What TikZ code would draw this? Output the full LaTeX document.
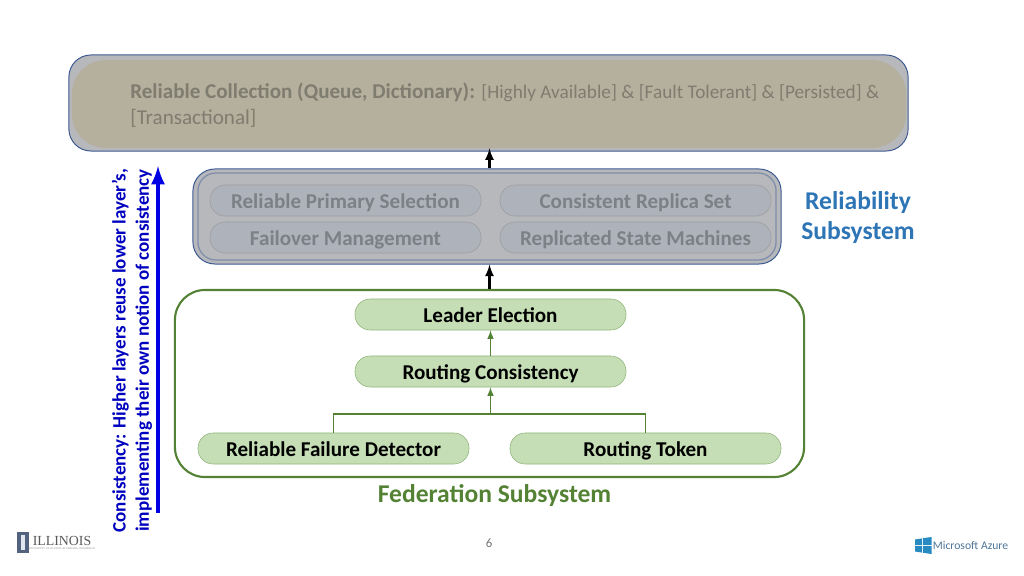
\documentclass[tikz,border=0pt]{standalone}
\usepackage{fontspec}
\setmainfont{Carlito}
\newfontfamily\logofont{Liberation Serif}

\def \pillw {6.775cm}
\def \pillh {0.775cm}
\def \pillr {0.38cm}

\definecolor{fedgreen}{HTML}{548235}
\definecolor{pillgreen}{HTML}{C5DEB5}
\definecolor{boxblue}{HTML}{3C5A92}
\definecolor{boxgrey}{HTML}{B7B8BC}
\definecolor{boxkhaki}{HTML}{B5B09E}
\definecolor{pillgrey}{HTML}{AEB2BB}
\definecolor{textgrey}{HTML}{7E8087}
\definecolor{textkhaki}{HTML}{7F7C70}
\definecolor{relblue}{HTML}{2E75B6}

\tikzset{
  layerbox/.style={draw=boxblue, fill=boxgrey, line width=0.7pt, rounded corners=0.55cm, inner sep=0pt},
  greenpill/.style={draw=fedgreen!45!pillgreen, fill=pillgreen, line width=0.4pt, rounded corners=\pillr,
    minimum width=\pillw, minimum height=\pillh, inner sep=0pt, text height=12pt, text depth=1pt, font=\fontsize{15}{18}\selectfont\bfseries},
  greypill/.style={draw=boxgrey!85!black, fill=pillgrey, line width=0.4pt, rounded corners=\pillr,
    minimum width=\pillw, minimum height=\pillh, inner sep=0pt, text height=12pt, text depth=1pt, text=textgrey, font=\fontsize{15}{18}\selectfont\bfseries},
  greenline/.style={draw=fedgreen, line width=1.1pt},
  biglabel/.style={font=\fontsize{18.2}{21.5}\selectfont\bfseries, align=center}
}

\begin{document}
\begin{tikzpicture}[x=0.025cm, y=-0.025cm]
\useasboundingbox (0,0) rectangle (1024,576);

% top layer
\draw (488.5,103) node[layerbox, minimum width=20.975cm, minimum height=2.4cm] (collection) {};
\draw (489,104) node[draw=none, fill=boxkhaki, rounded corners=0.85cm, minimum width=20.85cm, minimum height=2.2cm] (collectioninner) {};
\draw (130,105) node[anchor=west, inner sep=0pt, align=left, text=textkhaki, font=\fontsize{15}{18.5}\selectfont] (collectiontext)
  {\textbf{Reliable Collection (Queue, Dictionary):} {\fontsize{13.7}{18.5}\selectfont [Highly Available] \& [Fault Tolerant] \& [Persisted] \&}\\{}[Transactional]};

% reliability layer
\draw (487,216.5) node[layerbox, minimum width=14.7cm, minimum height=2.375cm] (reliability) {};
\draw (487,216.5) node[draw=boxblue!45!boxgrey, line width=0.9pt, rounded corners=0.45cm, minimum width=14.45cm, minimum height=2.175cm, inner sep=0pt] (reliabilityinner) {};
\draw (345.5,200.5) node[greypill] (primary) {Reliable Primary Selection};
\draw (635.5,200.5) node[greypill] (replica) {Consistent Replica Set};
\draw (345.5,237.5) node[greypill] (failover) {Failover Management};
\draw (635.5,237.5) node[greypill] (machines) {Replicated State Machines};
\draw (858,217.5) node[biglabel, text=relblue] (reliabilitylabel) {Reliability\\Subsystem};

% federation layer
\draw (489.5,383.5) node[draw=fedgreen, line width=1.5pt, rounded corners=0.75cm, minimum width=15.725cm, minimum height=4.675cm, inner sep=0pt] (federation) {};
\draw (490.5,314.5) node[greenpill] (leader) {Leader Election};
\draw (490.5,371.5) node[greenpill] (routing) {Routing Consistency};
\draw (333.5,448.5) node[greenpill] (detector) {Reliable Failure Detector};
\draw (645.5,448.5) node[greenpill] (token) {Routing Token};
\draw (494.5,496) node[biglabel, text=fedgreen] (federationlabel) {Federation Subsystem};

\coordinate (join) at (routing.south |- 0,414);
\draw[greenline] (detector.north) |- (join);
\draw[greenline] (token.north) |- (join);
\draw[greenline, ->, >=latex] (join) -- (routing.south);
\draw[greenline, ->, >=latex] (routing.north) -- (leader.south);

\draw[->, >=latex, line width=1.8pt] (federation.north) -- (federation.north |- reliability.south);
\draw[->, >=latex, line width=1.8pt] (federation.north |- reliability.north) -- (federation.north |- collectioninner.south);

% consistency arrow
\coordinate (arrowstart) at (158,513);
\coordinate (arrowend) at (158,166);
\draw[->, >=latex, draw=blue!90!black, line width=3.4pt] (arrowstart) -- (arrowend);
\draw (132,350.5) node[rotate=90, align=center, text=blue!75!black, font=\fontsize{13.5}{16.5}\selectfont\bfseries, inner sep=0pt] (consistency)
  {Consistency: Higher layers reuse lower layer's,\\implementing their own notion of consistency};

% page number
\draw (489,543) node[text=black!55, font=\fontsize{9.1}{11}\selectfont, inner sep=0pt] (pagenumber) {6};

% illinois logo
\draw (23,542.5) node[fill=black!35!boxblue!80, minimum width=0.3cm, minimum height=0.525cm, inner sep=0pt] (shield) {};
\draw (23,542.5) node[fill=white!85!boxblue, minimum width=0.1cm, minimum height=0.38cm, inner sep=0pt] (column) {};
\draw (62,540.5) node[text=black!65, font=\logofont\fontsize{9.85}{12}\selectfont, inner sep=0pt] (illinois) {ILLINOIS};
\draw (62,549) node[text=black!45, font=\logofont\fontsize{1.95}{3}\selectfont, inner sep=0pt] (illinoissub) {UNIVERSITY OF ILLINOIS AT URBANA-CHAMPAIGN};

% azure logo
\fill[relblue!85!cyan] (915,539.5) -- (922,538.4) -- (922,545) -- (915,545) -- cycle;
\fill[relblue!85!cyan] (923,538.2) -- (931.5,537) -- (931.5,545) -- (923,545) -- cycle;
\fill[relblue!85!cyan] (915,546) -- (922,546) -- (922,552.6) -- (915,551.5) -- cycle;
\fill[relblue!85!cyan] (923,546) -- (931.5,546) -- (931.5,554) -- (923,552.8) -- cycle;
\draw (970.5,546) node[text=relblue!70!black!80, font=\fontsize{8.3}{11}\selectfont, inner sep=0pt] (azure) {Microsoft Azure};
\end{tikzpicture}
\end{document}
